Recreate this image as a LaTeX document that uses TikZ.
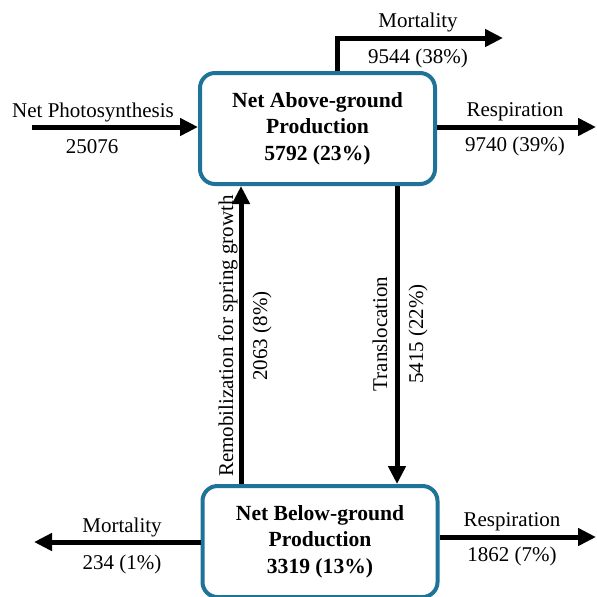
\documentclass[tikz,border=0pt]{standalone}
\usepackage{fontspec}
\setmainfont{Liberation Serif}
\usepackage{xcolor}
\usepackage{tikz}
\usetikzlibrary{arrows.meta,calc}
\definecolor{boxblue}{HTML}{1F7398}

\begin{document}
\begin{tikzpicture}[
  x=0.5pt,y=-0.5pt,
  font=\fontsize{10.5}{12.5}\selectfont,
  pool/.style={draw=boxblue,fill=white,rounded corners=7.5pt,line width=2pt,align=center,
               minimum width=117.5pt,minimum height=55.5pt,inner sep=0pt,
               font=\fontsize{10.8}{13.35}\selectfont\bfseries},
  lab/.style={inner sep=0pt},
  ar/.style={-{Triangle[length=9pt,width=8.5pt]},draw=black,line width=2.5pt}
]
\useasboundingbox (0,0) rectangle (597,596);
\clip (0,0) rectangle (597,596);

\node[pool] (above) at (317.5,128.5) {Net Above-ground\\Production\\5792 (23\%)};
\node[pool] (below) at (320,541.5) {Net Below-ground\\Production\\3319 (13\%)};

% flux end points
\coordinate (photo) at (32,127);
\coordinate (mortup) at (337,38);
\coordinate (mortupend) at (503,38);
\coordinate (respup) at (596,127);
\coordinate (remob) at (241,330);
\coordinate (transl) at (397,330);
\coordinate (mortdown) at (34,542);
\coordinate (respdown) at (596,537);

\draw[ar] (photo) -- (photo -| above.west);
\draw[ar] (above.north -| mortup) -- (mortup) -- (mortupend);
\draw[ar] (above.east |- respup) -- (respup);
\draw[ar] (below.north -| remob) -- (above.south -| remob);
\draw[ar] (above.south -| transl) -- (below.north -| transl);
\draw[ar] (below.west |- mortdown) -- (mortdown);
\draw[ar] (below.east |- respdown) -- (respdown);

% labels
\node[lab] (photolab) at (93,112) {Net Photosynthesis};
\node[lab] (photoval) at (92,147) {25076};
\node[lab] (mortuplab) at (418,22) {Mortality};
\node[lab] (mortupval) at (418,58) {9544 (38\%)};
\node[lab] (respuplab) at (515,112) {Respiration};
\node[lab] (respupval) at (515,146) {9740 (39\%)};
\node[lab,rotate=90] (remoblab) at (228,336) {Remobilization for spring growth};
\node[lab,rotate=90] (remobval) at (262,336) {2063 (8\%)};
\node[lab,rotate=90] (transllab) at (380,334) {Translocation};
\node[lab,rotate=90] (translval) at (418,334) {5415 (22\%)};
\node[lab] (mortdownlab) at (122,527) {Mortality};
\node[lab] (mortdownval) at (122,564) {234 (1\%)};
\node[lab] (respdownlab) at (512,522) {Respiration};
\node[lab] (respdownval) at (512,556) {1862 (7\%)};
\end{tikzpicture}
\end{document}
